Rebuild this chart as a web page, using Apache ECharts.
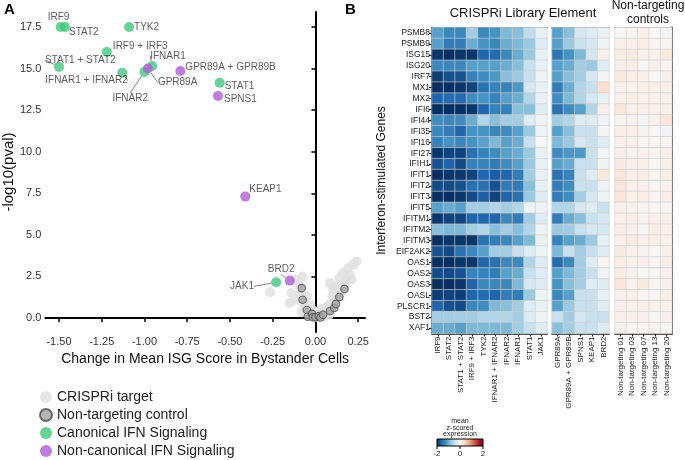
<!DOCTYPE html>
<html>
<head>
<meta charset="utf-8">
<script src="https://cdn.jsdelivr.net/npm/echarts@6/dist/echarts.min.js"></script>
<style>
  html, body { margin: 0; padding: 0; background: #fff; }
  #canvas { width: 685px; height: 460px; }
</style>
</head>
<body>
<div id="canvas"></div>
<script>
// ---- panel A: volcano-ish scatter ----
const xTicks = [-1.5, -1.25, -1, -0.75, -0.5, -0.25, 0, 0.25];
const yTicks = [0, 2.5, 5, 7.5, 10, 12.5, 15, 17.5];

const crispriTargets = [
  [-0.265, 1.55], [-0.15, 0.9], [-0.14, 1.5], [-0.12, 2.3], [-0.1, 2.0], [-0.09, 1.4],
  [-0.11, 1.1], [-0.075, 2.5], [-0.07, 0.9], [-0.06, 0.6], [-0.08, 0.35], [-0.05, 1.3],
  [-0.04, 0.3], [-0.03, 0.8], [-0.02, 0.5], [-0.01, 0.15], [0.0, 0.3], [0.01, 0.05],
  [0.02, 0.4], [0.03, 0.2], [0.04, 0.55], [0.05, 0.1], [0.06, 0.35], [0.07, 0.7],
  [0.08, 0.2], [0.09, 0.9], [0.1, 1.3], [0.11, 1.6], [0.12, 1.1], [0.13, 2.0],
  [0.14, 2.4], [0.15, 1.5], [0.16, 2.7], [0.17, 1.9], [0.18, 2.2], [0.19, 3.0],
  [0.2, 2.6], [0.22, 3.2], [0.24, 3.4], [0.21, 2.3], [0.085, 2.1], [0.1, 1.8]
];
const nonTargeting = [
  [-0.08, 1.8], [-0.075, 1.1], [-0.05, 0.48], [-0.045, 0.08], [-0.02, 0.25], [-0.015, 0.05],
  [0.0, 0.05], [0.02, 0.12], [0.03, 0.03], [0.045, 0.2], [0.085, 0.42], [0.11, 0.6],
  [0.12, 0.85], [0.14, 1.26], [0.17, 1.75]
];
const canonical = [
  ['IRF9', -1.49, 17.5], ['STAT2', -1.465, 17.5], ['TYK2', -1.09, 17.5],
  ['IRF9 + IRF3', -1.22, 16.0], ['STAT1 + STAT2', -1.5, 15.1],
  ['IFNAR1 + IFNAR2', -1.13, 14.75], ['IFNAR2', -1.0, 14.8], ['IFNAR1', -0.955, 15.15],
  ['STAT1', -0.56, 14.15], ['JAK1', -0.23, 2.15]
];
const nonCanonical = [
  ['GPR89A', -0.98, 15.0], ['GPR89A + GPR89B', -0.79, 14.85], ['SPNS1', -0.57, 13.35],
  ['KEAP1', -0.41, 7.3], ['BRD2', -0.15, 2.25]
];

// label nudges (px) from the default right-of-point spot
const labelShift = {
  'IRF9': [-21, -10], 'STAT2': [-4, 5], 'TYK2': [-3, 0], 'IRF9 + IRF3': [-2, -6],
  'STAT1 + STAT2': [-22, -7], 'IFNAR1 + IFNAR2': [-85, 8], 'IFNAR2': [-40, 26],
  'IFNAR1': [-10, -10], 'STAT1': [-3, 4], 'JAK1': [-54, 4],
  'GPR89A': [2, 14], 'GPR89A + GPR89B': [-3, -4], 'SPNS1': [-2, 3], 'KEAP1': [-4, -7],
  'BRD2': [-30, -11]
};
const withLeader = ['IFNAR2', 'IFNAR1', 'GPR89A', 'JAK1', 'BRD2', 'STAT1 + STAT2', 'IFNAR1 + IFNAR2'];

// ---- panel B: heatmap ----
const genes = ['PSMB8', 'PSMB9', 'ISG15', 'ISG20', 'IRF7', 'MX1', 'MX2', 'IFI6', 'IFI44', 'IFI35',
  'IFI16', 'IFI27', 'IFIH1', 'IFIT1', 'IFIT2', 'IFIT3', 'IFIT5', 'IFITM1', 'IFITM2', 'IFITM3',
  'EIF2AK2', 'OAS1', 'OAS2', 'OAS3', 'OASL', 'PLSCR1', 'BST2', 'XAF1'];
const libElements = ['IRF9', 'STAT2', 'STAT1 + STAT2', 'IRF9 + IRF3', 'TYK2', 'IFNAR1 + IFNAR2',
  'IFNAR2', 'IFNAR1', 'STAT1', 'JAK1'];
const otherElements = ['GPR89A', 'GPR89A + GPR89B', 'SPNS1', 'KEAP1', 'BRD2'];
const ntcElements = ['Non-targeting 01', 'Non-targeting 03', 'Non-targeting 07', 'Non-targeting 13', 'Non-targeting 20'];

const libValues = [
  [-1.1, -1.3, -1.3, -0.7, -1.3, -1.2, -0.9, -0.85, -0.5, -0.15],
  [-1.1, -1.4, -1.4, -1.0, -1.2, -1.3, -1.0, -0.9, -0.75, -0.25],
  [-1.95, -2.0, -1.95, -1.95, -1.6, -1.55, -1.3, -1.0, -0.75, -0.15],
  [-1.3, -1.3, -1.3, -1.1, -1.1, -1.1, -1.0, -0.85, -0.45, -0.15],
  [-1.9, -1.75, -1.75, -1.35, -1.25, -1.15, -0.85, -0.75, -0.45, -0.1],
  [-2.0, -2.0, -1.95, -1.85, -1.5, -1.35, -1.35, -1.15, -0.35, -0.15],
  [-1.6, -1.55, -1.55, -1.25, -1.2, -1.35, -1.1, -1.0, -0.6, -0.15],
  [-2.0, -2.0, -2.0, -1.95, -1.6, -1.35, -1.35, -0.85, -0.85, -0.25],
  [-1.25, -1.3, -1.25, -1.0, -0.6, -0.85, -0.7, -0.7, -0.25, -0.1],
  [-1.3, -1.4, -1.6, -1.2, -1.2, -1.3, -1.25, -1.1, -0.75, -0.1],
  [-1.35, -1.2, -1.3, -1.2, -1.1, -0.9, -1.1, -1.0, -0.45, 0.0],
  [-1.95, -1.85, -1.85, -1.5, -1.35, -1.25, -1.1, -1.0, -0.75, -0.15],
  [-1.75, -1.6, -1.8, -1.35, -1.35, -1.4, -1.25, -1.1, -0.75, -0.15],
  [-2.0, -1.95, -1.95, -1.85, -1.6, -1.65, -1.6, -1.4, -0.7, -0.15],
  [-1.8, -1.8, -1.75, -1.5, -1.5, -1.75, -1.4, -1.4, -0.85, -0.15],
  [-2.0, -2.0, -1.95, -1.8, -1.65, -1.85, -1.6, -1.5, -0.75, -0.25],
  [-1.1, -1.0, -1.1, -0.7, -0.7, -0.6, -0.7, -0.6, -0.1, -0.1],
  [-1.95, -1.85, -1.85, -1.6, -1.6, -1.6, -1.3, -1.4, -0.7, -0.25],
  [-0.85, -0.9, -0.9, -0.7, -0.6, -0.85, -0.7, -0.85, -0.6, -0.1],
  [-2.0, -1.95, -1.95, -1.95, -1.5, -1.4, -1.3, -1.1, -0.9, -0.15],
  [-1.75, -1.8, -1.5, -1.3, -1.1, -0.7, -0.7, -0.45, -0.25, -0.1],
  [-2.0, -2.0, -1.95, -1.95, -1.6, -1.5, -1.3, -1.3, -0.6, -0.25],
  [-1.8, -1.8, -1.75, -1.35, -1.35, -1.4, -1.1, -1.0, -0.45, -0.25],
  [-2.0, -2.0, -1.95, -1.6, -1.3, -1.3, -1.3, -0.9, -0.35, -0.25],
  [-1.9, -1.85, -1.9, -1.6, -1.55, -1.6, -1.4, -1.4, -0.75, -0.1],
  [-1.6, -1.75, -1.8, -1.3, -1.25, -0.9, -0.85, -0.7, -0.25, -0.15],
  [-0.7, -0.7, -0.7, -0.7, -0.6, -0.6, -0.6, -0.7, -0.25, -0.1],
  [-1.0, -1.0, -1.1, -0.9, -0.9, -0.9, -0.9, -0.7, -0.45, -0.25]
];
const otherValues = [
  [-1.1, -0.85, -0.35, -0.25, -0.15],
  [-1.1, -0.75, -0.45, -0.35, -0.1],
  [-1.45, -1.2, -0.9, -0.35, 0.1],
  [-1.1, -1.0, -0.7, -0.75, -0.25],
  [-1.1, -0.85, -0.7, -0.35, -0.05],
  [-1.4, -1.0, -0.6, -0.45, 0.35],
  [-1.25, -0.9, -0.6, -0.35, -0.15],
  [-1.5, -1.25, -1.1, -0.6, 0.1],
  [-0.7, -0.6, -0.25, -0.25, -0.1],
  [-1.1, -0.85, -0.45, -0.45, -0.05],
  [-0.9, -0.75, -0.35, -0.45, -0.25],
  [-1.25, -1.15, -1.15, -0.45, -0.05],
  [-1.1, -1.0, -0.45, -0.45, -0.1],
  [-1.5, -1.35, -0.45, -0.25, 0.2],
  [-1.4, -1.25, -0.45, -0.45, -0.1],
  [-1.4, -1.25, -0.7, -0.35, -0.1],
  [-0.6, -0.6, -0.35, -0.25, -0.45],
  [-1.4, -1.0, -0.85, -0.45, -0.35],
  [-0.75, -0.7, -0.45, -0.35, -0.35],
  [-1.35, -1.1, -1.0, -0.75, -0.15],
  [-0.9, -0.45, -0.7, -0.45, -0.25],
  [-1.55, -1.3, -0.7, -0.25, 0.05],
  [-1.1, -0.9, -0.7, -0.45, -0.1],
  [-1.2, -0.85, -0.7, -0.25, -0.25],
  [-1.3, -1.1, -0.45, -0.45, -0.15],
  [-1.1, -0.75, -0.45, -0.45, -0.25],
  [-0.45, -0.7, -0.35, -0.45, -0.45],
  [-0.85, -0.7, -0.45, -0.45, -0.25]
];
const ntcValues = [
  [0.0, 0.05, 0.1, 0.0, -0.05],
  [0.1, 0.1, 0.15, 0.05, 0.05],
  [0.15, 0.2, 0.1, 0.1, 0.2],
  [0.15, 0.15, 0.0, 0.1, 0.05],
  [0.2, 0.15, 0.1, 0.0, 0.1],
  [0.1, 0.1, 0.1, 0.15, 0.15],
  [0.1, 0.15, 0.1, 0.1, 0.1],
  [0.25, 0.1, 0.1, 0.1, 0.1],
  [0.05, 0.1, -0.05, 0.1, 0.25],
  [0.15, 0.15, 0.05, 0.0, -0.05],
  [0.1, 0.1, 0.05, 0.05, 0.05],
  [0.15, 0.05, 0.1, 0.05, 0.15],
  [0.2, 0.1, 0.1, 0.0, 0.15],
  [0.25, 0.1, 0.15, 0.05, 0.15],
  [0.25, 0.1, 0.1, 0.05, 0.1],
  [0.25, 0.1, 0.15, 0.05, 0.15],
  [0.1, 0.1, 0.05, 0.05, 0.05],
  [0.1, 0.15, 0.05, 0.1, 0.1],
  [0.15, 0.1, 0.0, 0.15, 0.1],
  [0.1, 0.2, 0.1, 0.15, 0.1],
  [0.2, 0.1, 0.05, 0.0, 0.1],
  [0.15, 0.1, 0.1, 0.05, 0.15],
  [0.15, 0.1, 0.0, 0.05, 0.1],
  [0.25, 0.1, 0.2, 0.05, 0.1],
  [0.1, 0.1, 0.05, 0.05, 0.15],
  [0.1, 0.1, 0.1, 0.1, 0.1],
  [0.1, 0.1, 0.1, 0.05, 0.1],
  [0.1, 0.05, 0.05, 0.05, 0.05]
];

const rdbu = ['#053061', '#2166ac', '#4393c3', '#92c5de', '#d1e5f0', '#f7f7f7',
  '#fddbc7', '#f4a582', '#d6604d', '#b2182b', '#67001f'];
const FONT = 'Liberation Sans, Arial, sans-serif';

function toCells(values) {
  const out = [];
  values.forEach((row, r) => row.forEach((v, c) => out.push([c, r, v])));
  return out;
}

function labeledPoints(list) {
  return list.map(d => ({
    name: d[0],
    value: [d[1], d[2]],
    labelLine: { show: withLeader.includes(d[0]) }
  }));
}

function labelSeries(name, list, color) {
  return {
    name, type: 'scatter', xAxisIndex: 0, yAxisIndex: 0,
    symbolSize: 10, itemStyle: { color },
    data: labeledPoints(list),
    label: {
      show: true, position: 'right', distance: 3, formatter: '{b}',
      fontSize: 10, color: '#333', fontFamily: FONT
    },
    labelLine: { show: false, lineStyle: { color: '#666', width: 0.8 } },
    labelLayout: p => {
      const s = labelShift[list[p.dataIndex][0]] || [0, 0];
      return { dx: s[0], dy: s[1] };
    },
    emphasis: { disabled: true }
  };
}

const blackLine = { show: true, lineStyle: { color: '#000', width: 1.5 } };

function heatX(gridIndex, cats) {
  return [{
    type: 'category', gridIndex, data: cats, position: 'bottom',
    axisLine: blackLine,
    axisTick: { show: true, alignWithLabel: true, length: 3, lineStyle: { color: '#000' } },
    axisLabel: { rotate: 90, interval: 0, fontSize: 8, color: '#222', margin: 3, fontFamily: FONT },
    splitLine: { show: false }
  }, {
    type: 'category', gridIndex, data: cats, position: 'top',
    axisLine: blackLine, axisTick: { show: false }, axisLabel: { show: false }
  }];
}

const myChart = echarts.init(document.getElementById('canvas'));

const option = {
  animation: false,
  textStyle: { fontFamily: FONT },
  grid: [
    { left: 40, top: 12, width: 325, height: 320 },
    { left: 432, top: 27.5, width: 115, height: 306 },
    { left: 552, top: 27.5, width: 57, height: 306 },
    { left: 615, top: 27.5, width: 57, height: 306 }
  ],
  xAxis: [
    {
      type: 'value', gridIndex: 0, min: -1.58, max: 0.29,
      name: 'Change in Mean ISG Score in Bystander Cells', nameLocation: 'middle', nameGap: 15,
      nameTextStyle: { fontSize: 14, color: '#111' },
      axisLine: { show: true, lineStyle: { color: '#000', width: 2 } },
      axisTick: { show: true, length: 4, lineStyle: { color: '#000', width: 1.5 }, customValues: xTicks },
      axisLabel: { fontSize: 11, color: '#333', margin: 4, customValues: xTicks, formatter: v => v.toFixed(2) },
      splitLine: { show: false }
    },
    ...heatX(1, libElements),
    ...heatX(2, otherElements),
    ...heatX(3, ntcElements)
  ],
  yAxis: [
    {
      type: 'value', gridIndex: 0, min: -0.84, max: 18.4,
      name: '-log10(pval)', nameLocation: 'middle', nameGap: 20,
      nameTextStyle: { fontSize: 15, color: '#111' },
      axisLine: { show: true, lineStyle: { color: '#000', width: 2 } },
      axisTick: { show: true, length: 4, lineStyle: { color: '#000', width: 1.5 }, customValues: yTicks },
      axisLabel: { fontSize: 11, color: '#333', margin: 4, customValues: yTicks, formatter: v => v.toFixed(1) },
      splitLine: { show: false }
    },
    {
      type: 'category', gridIndex: 1, data: genes, inverse: true,
      name: 'Interferon-stimulated Genes', nameLocation: 'middle', nameGap: 44,
      nameTextStyle: { fontSize: 12, color: '#111' },
      axisLine: blackLine,
      axisTick: { show: true, alignWithLabel: true, length: 3, lineStyle: { color: '#000', width: 1.2 } },
      axisLabel: { fontSize: 8.5, color: '#222', margin: 2, interval: 0 }
    },
    {
      type: 'category', gridIndex: 2, data: genes, inverse: true,
      axisLine: { show: false }, axisTick: { show: false }, axisLabel: { show: false }
    },
    {
      type: 'category', gridIndex: 3, data: genes, inverse: true,
      axisLine: { show: false }, axisTick: { show: false }, axisLabel: { show: false }
    },
    {
      type: 'category', gridIndex: 3, data: genes, inverse: true, position: 'right',
      axisLine: { show: true, lineStyle: { color: '#000', width: 2 } },
      axisTick: { show: false }, axisLabel: { show: false }
    }
  ],
  visualMap: {
    show: false, type: 'continuous', min: -2, max: 2,
    seriesIndex: [4, 5, 6],
    inRange: { color: rdbu }
  },
  legend: {
    orient: 'vertical', left: 39, top: 390, padding: 0, itemGap: 4,
    itemWidth: 12, itemHeight: 12, icon: 'circle',
    textStyle: { fontSize: 14, color: '#222', lineHeight: 14 },
    data: ['CRISPRi target', 'Non-targeting control', 'Canonical IFN Signaling', 'Non-canonical IFN Signaling']
  },
  graphic: [
    { type: 'text', left: 4, top: 2, style: { text: 'A', fontSize: 15, fontWeight: 'bold', fill: '#000', fontFamily: FONT } },
    { type: 'text', left: 345, top: 2, style: { text: 'B', fontSize: 15, fontWeight: 'bold', fill: '#000', fontFamily: FONT } },
    { type: 'text', x: 523, y: 13, style: { text: 'CRISPRi Library Element', fontSize: 13, fill: '#111', align: 'center', verticalAlign: 'middle', fontFamily: FONT } },
    { type: 'text', x: 648, y: 13, style: { text: 'Non-targeting\ncontrols', fontSize: 12, lineHeight: 14, fill: '#111', align: 'center', verticalAlign: 'middle', fontFamily: FONT } },
    { type: 'text', x: 460, y: 428, style: { text: 'mean\nz-scored\nexpression', fontSize: 7, lineHeight: 6.5, fill: '#222', align: 'center', verticalAlign: 'middle', fontFamily: FONT } },
    {
      type: 'rect', shape: { x: 437, y: 439, width: 46, height: 7 },
      style: {
        fill: new echarts.graphic.LinearGradient(0, 0, 1, 0,
          rdbu.map((c, i) => ({ offset: i / (rdbu.length - 1), color: c }))),
        stroke: '#000', lineWidth: 1
      }
    },
    { type: 'line', shape: { x1: 437, y1: 446, x2: 437, y2: 449 }, style: { stroke: '#000', lineWidth: 1 } },
    { type: 'line', shape: { x1: 460, y1: 446, x2: 460, y2: 449 }, style: { stroke: '#000', lineWidth: 1 } },
    { type: 'line', shape: { x1: 483, y1: 446, x2: 483, y2: 449 }, style: { stroke: '#000', lineWidth: 1 } },
    { type: 'text', x: 437, y: 454, style: { text: '-2', fontSize: 8, fill: '#222', align: 'center', verticalAlign: 'middle', fontFamily: FONT } },
    { type: 'text', x: 460, y: 454, style: { text: '0', fontSize: 8, fill: '#222', align: 'center', verticalAlign: 'middle', fontFamily: FONT } },
    { type: 'text', x: 483, y: 454, style: { text: '2', fontSize: 8, fill: '#222', align: 'center', verticalAlign: 'middle', fontFamily: FONT } }
  ],
  series: [
    {
      name: 'CRISPRi target', type: 'scatter', xAxisIndex: 0, yAxisIndex: 0,
      symbolSize: 10, itemStyle: { color: '#e1e1e1', opacity: 0.85 },
      data: crispriTargets, emphasis: { disabled: true }
    },
    {
      name: 'Non-targeting control', type: 'scatter', xAxisIndex: 0, yAxisIndex: 0,
      symbolSize: 7.5, itemStyle: { color: '#a3a3a3', borderColor: '#4d4d4d', borderWidth: 1.1 },
      data: nonTargeting, emphasis: { disabled: true }
    },
    labelSeries('Canonical IFN Signaling', canonical, '#3ec97a'),
    labelSeries('Non-canonical IFN Signaling', nonCanonical, '#b25bd8'),
    {
      type: 'heatmap', xAxisIndex: 1, yAxisIndex: 1, data: toCells(libValues),
      itemStyle: { borderColor: '#cfcfcf', borderWidth: 0.6 }, emphasis: { disabled: true }
    },
    {
      type: 'heatmap', xAxisIndex: 3, yAxisIndex: 2, data: toCells(otherValues),
      itemStyle: { borderColor: '#cfcfcf', borderWidth: 0.6 }, emphasis: { disabled: true }
    },
    {
      type: 'heatmap', xAxisIndex: 5, yAxisIndex: 3, data: toCells(ntcValues),
      itemStyle: { borderColor: '#cfcfcf', borderWidth: 0.6 }, emphasis: { disabled: true }
    }
  ]
};

myChart.setOption(option);
</script>
</body>
</html>
